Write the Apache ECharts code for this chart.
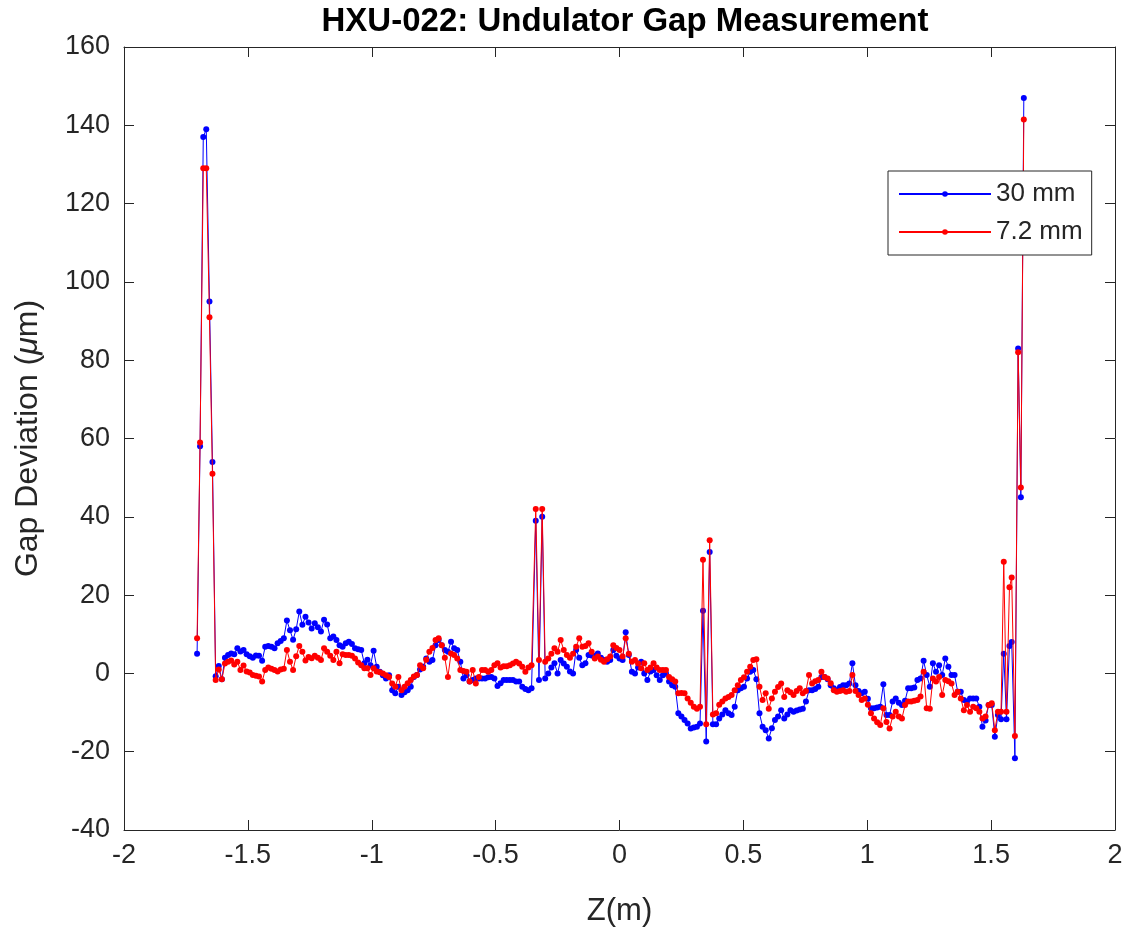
<!DOCTYPE html>
<html>
<head>
<meta charset="utf-8">
<script src="https://cdn.jsdelivr.net/npm/echarts@6/dist/echarts.min.js"></script>
<style>
html,body{margin:0;padding:0;background:#fff;}
#chart{width:1135px;height:934px;}
</style>
</head>
<body>
<div id="chart"></div>
<script>
// Z positions (m)
const zPos = [
 -1.705,-1.693,-1.68,-1.668,-1.655,-1.643,-1.63,-1.6175,-1.605,-1.5925,
 -1.58,-1.5675,-1.555,-1.5425,-1.53,-1.5175,-1.505,-1.4925,-1.48,-1.4675,
 -1.455,-1.4425,-1.43,-1.4175,-1.405,-1.3925,-1.38,-1.3675,-1.355,-1.3425,
 -1.33,-1.3175,-1.305,-1.2925,-1.28,-1.2675,-1.255,-1.2425,-1.23,-1.2175,
 -1.205,-1.1925,-1.18,-1.1675,-1.155,-1.1425,-1.13,-1.1175,-1.105,-1.0925,
 -1.08,-1.0675,-1.055,-1.0425,-1.03,-1.0175,-1.005,-0.9925,-0.98,-0.9675,
 -0.955,-0.9425,-0.93,-0.9175,-0.905,-0.8925,-0.88,-0.8675,-0.855,-0.8425,
 -0.83,-0.8175,-0.805,-0.7925,-0.78,-0.7675,-0.755,-0.7425,-0.73,-0.7175,
 -0.705,-0.6925,-0.68,-0.6675,-0.655,-0.6425,-0.63,-0.6175,-0.605,-0.5925,
 -0.58,-0.5675,-0.555,-0.5425,-0.53,-0.5175,-0.505,-0.4925,-0.48,-0.4675,
 -0.455,-0.4425,-0.43,-0.4175,-0.405,-0.3925,-0.38,-0.3675,-0.355,-0.338,
 -0.325,-0.312,-0.3,-0.2875,-0.275,-0.2625,-0.25,-0.2375,-0.225,-0.2125,
 -0.2,-0.1875,-0.175,-0.1625,-0.15,-0.1375,-0.125,-0.1125,-0.1,-0.0875,
 -0.075,-0.0625,-0.05,-0.0375,-0.025,-0.0125,0,0.0125,0.025,0.0375,
 0.05,0.0625,0.075,0.0875,0.1,0.1125,0.125,0.1375,0.15,0.1625,
 0.175,0.1875,0.2,0.2125,0.225,0.2375,0.25,0.2625,0.275,0.2875,
 0.3,0.3125,0.325,0.337,0.35,0.364,0.377,0.39,0.4025,0.415,
 0.4275,0.44,0.4525,0.465,0.4775,0.49,0.5025,0.515,0.5275,0.54,
 0.5525,0.565,0.5775,0.59,0.6025,0.615,0.6275,0.64,0.6525,0.665,
 0.6775,0.69,0.7025,0.715,0.7275,0.74,0.7525,0.765,0.7775,0.79,
 0.8025,0.815,0.8275,0.84,0.8525,0.865,0.8775,0.89,0.9025,0.915,
 0.9275,0.94,0.9525,0.965,0.9775,0.99,1.0025,1.015,1.0275,1.04,
 1.0525,1.065,1.0775,1.09,1.1025,1.115,1.1275,1.14,1.1525,1.165,
 1.1775,1.19,1.2025,1.215,1.2275,1.24,1.2525,1.265,1.2775,1.29,
 1.3025,1.315,1.3275,1.34,1.3525,1.365,1.3775,1.39,1.4025,1.415,
 1.4275,1.44,1.4525,1.465,1.4775,1.49,1.5025,1.515,1.5275,1.54,
 1.551,1.562,1.574,1.583,1.596,1.609,1.62,1.632
];
// Gap deviation (um) at 30 mm gap
const gap30 = [
 5,58,137,139,95,54,-0.7,1.9,-1.5,4.0,
 4.7,5.1,4.9,6.4,5.6,6.0,4.9,4.4,4.0,4.6,
 4.5,3.2,6.8,7.0,6.8,6.4,7.7,8.3,9.0,13.5,
 11.0,8.6,11.3,15.8,12.4,14.5,13.0,11.5,12.8,11.8,
 10.7,13.7,12.5,9.0,9.4,8.5,7.2,6.8,7.7,8.1,
 7.5,6.4,6.2,6.0,2.6,3.5,2.1,5.8,1.7,0.4,
 -0.5,-1.3,-0.5,-4.3,-5.1,-3.4,-5.5,-4.8,-4.3,-3.4,
 -0.9,-0.4,1.0,1.7,3.8,3.0,3.4,7.2,8.5,7.2,
 6.0,5.5,8.1,6.4,6.0,3.0,-1.3,-0.5,-2.1,-1.7,
 -1.3,-1.3,-1.3,-1.3,-1.0,-0.9,-1.3,-3.2,-2.5,-1.7,
 -1.7,-1.7,-1.7,-2.1,-2.1,-3.4,-4.0,-4.3,-3.8,39,
 -1.7,40,-1.3,0.0,1.5,2.6,0.0,3.4,2.5,1.7,
 0.5,0.0,6.0,4.0,2.1,2.6,4.7,4.6,4.5,5.1,
 4.0,3.4,3.0,3.4,6.0,4.5,3.8,3.4,10.5,4.7,
 0.4,0.0,1.5,3.0,0.0,-1.7,0.5,0.9,-0.5,-1.7,
 -0.5,0.0,-2.1,-3.0,-3.4,-10.2,-11.0,-11.9,-12.8,-14.1,
 -13.8,-13.6,-12.8,16,-17.4,31,-13,-13.0,-11.5,-10.5,
 -9.4,-10.2,-10.6,-8.5,-4.3,-3.8,-3.4,-1.3,0.4,0.9,
 -1.5,-10.2,-13.6,-14.5,-16.6,-14.0,-11.9,-11.0,-9.4,-11.5,
 -10.5,-9.4,-9.8,-9.5,-9.2,-9.0,-7.2,-4.3,-4.3,-4.0,
 -3.4,-0.9,-0.9,-1.5,-3.0,-3.8,-4.3,-3.5,-3.0,-3.0,
 -2.6,2.6,-3.0,-4.5,-5.1,-4.7,-6.5,-8.9,-8.9,-8.7,
 -8.5,-2.8,-10.6,-10.6,-7.2,-6.4,-7.5,-8.1,-7.0,-3.8,
 -3.8,-3.6,-1.7,-1.3,3.2,-0.4,-3.4,2.6,0.4,2.1,
 -0.4,3.8,1.7,-0.4,-0.4,-4.7,-4.7,-6.8,-7.2,-6.4,
 -6.4,-6.4,-8.5,-13.6,-12.0,-8.1,-8.1,-16.2,-10.6,-11.7,
 5,-11.7,7,8,-21.7,83,45,147
];
// Gap deviation (um) at 7.2 mm gap
const gap72 = [
 9,59,129,129,91,51,-1.7,1.0,-1.5,2.5,
 3.0,3.3,2.3,3.0,0.9,2.0,0.5,0.2,-0.4,-0.6,
 -0.8,-2.1,0.9,1.5,1.2,0.9,0.5,1.0,1.2,6.0,
 3.0,0.9,4.4,7.0,5.5,3.3,4.2,3.9,4.5,4.0,
 3.4,6.4,5.5,4.5,3.4,5.5,2.6,4.9,4.7,4.7,
 4.5,3.8,2.8,2.1,1.3,1.3,-0.4,1.3,0.5,0.3,
 0.0,-0.5,-0.9,-2.6,-3.4,-0.9,-4.3,-3.4,-2.5,-1.7,
 -0.8,-0.4,2.1,1.3,3.5,5.5,6.5,8.5,9.0,7.2,
 4.0,-0.9,5.1,4.7,3.8,0.9,0.6,0.4,-2.1,0.9,
 -2.6,-0.9,0.9,0.9,0.4,0.9,2.1,2.6,1.5,1.8,
 1.8,2.1,2.5,3.0,2.5,1.7,0.4,1.5,2.1,42,
 3.4,42,3.0,3.8,5.0,6.4,5.5,8.5,6.0,4.7,
 4.0,5.0,6.8,9.0,6.8,7.0,7.7,5.5,3.8,4.3,
 3.5,3.0,3.6,4.3,7.2,6.5,6.0,4.3,9.0,5.0,
 3.0,3.4,2.5,1.3,2.6,0.9,1.5,2.6,1.5,0.9,
 0.9,0.9,-0.9,-1.5,-2.1,-5.1,-5.0,-5.1,-6.4,-7.5,
 -8.5,-9.0,-8.5,29,-13,34,-10.5,-10.2,-8.0,-7.2,
 -6.4,-6.0,-5.5,-4.3,-3.0,-1.7,-1.0,0.4,1.7,3.4,
 3.6,-3.4,-6.8,-5.1,-9.0,-6.4,-4.7,-3.5,-2.6,-6.0,
 -4.3,-4.8,-5.5,-4.5,-3.8,-5.1,-4.5,-0.4,-2.6,-2.0,
 -1.7,0.4,-0.9,-1.3,-2.5,-4.3,-4.7,-4.5,-4.3,-4.7,
 -4.5,-0.4,-4.5,-5.5,-6.8,-6.4,-8.0,-10.2,-11.5,-12.5,
 -13.2,-8.9,-12.4,-14.1,-11.0,-9.8,-11.0,-11.5,-8.1,-7.2,
 -7.2,-7.0,-6.8,-5.9,0.4,-8.9,-9.0,-1.3,-2.1,-0.9,
 -5.5,-1.7,-2.0,-2.6,-5.5,-4.7,-6.4,-9.4,-8.1,-9.8,
 -8.5,-8.9,-9.8,-11.5,-11.0,-8.1,-7.6,-14.5,-9.8,-9.8,
 28.5,-9.8,22,24.5,-16,82,47.5,141.5
];
const seriesNames = ['30 mm', '7.2 mm'];
const seriesColors = ['#0000ff', '#ff0000'];

const FONT = '"Liberation Sans", Arial, Helvetica, sans-serif';
const AXC = '#262626';

const toPairs = vals => zPos.map((z, i) => [z, vals[i]]);

const chart = echarts.init(document.getElementById('chart'), null, {renderer: 'canvas'});

const baseX = {
  type: 'value', min: -2, max: 2, interval: 0.5,
  axisLine: {show: true, onZero: false, lineStyle: {color: AXC, width: 1}},
  axisTick: {show: true, inside: true, length: 10, lineStyle: {color: AXC}},
  splitLine: {show: false}
};
const baseY = {
  type: 'value', min: -40, max: 160, interval: 20,
  axisLine: {show: true, onZero: false, lineStyle: {color: AXC, width: 1}},
  axisTick: {show: true, inside: true, length: 10, lineStyle: {color: AXC}},
  splitLine: {show: false}
};

const option = {
  animation: false,
  backgroundColor: '#ffffff',
  title: {
    text: 'HXU-022: Undulator Gap Measurement',
    left: 620, top: 0, textAlign: 'center',
    textStyle: {fontFamily: FONT, fontWeight: 'bold', fontSize: 33, color: '#000'}
  },
  grid: {left: 124, right: 20, top: 47, bottom: 104, containLabel: false},
  legend: {
    data: seriesNames,
    orient: 'vertical',
    left: 888, top: 171,
    padding: [10, 9, 10, 10],
    itemGap: 12,
    itemWidth: 92, itemHeight: 7,
    backgroundColor: '#fff',
    borderColor: AXC, borderWidth: 1, borderRadius: 0,
    textStyle: {fontFamily: FONT, fontSize: 26, color: AXC}
  },
  xAxis: [
    Object.assign({}, baseX, {
      position: 'bottom',
      name: 'Z(m)', nameLocation: 'middle', nameGap: 66,
      nameTextStyle: {fontFamily: FONT, fontSize: 31, color: AXC},
      axisLabel: {show: true, margin: 12, fontFamily: FONT, fontSize: 27, color: AXC,
        formatter: v => String(v)}
    }),
    Object.assign({}, baseX, {position: 'top', axisLabel: {show: false}})
  ],
  yAxis: [
    Object.assign({}, baseY, {
      position: 'left',
      name: 'Gap Deviation ({i|μ}m)', nameLocation: 'middle', nameGap: 80, nameRotate: 90,
      nameTextStyle: {fontFamily: FONT, fontSize: 32, color: AXC,
        rich: {i: {fontFamily: FONT, fontSize: 32, fontStyle: 'italic', color: AXC}}},
      axisLabel: {show: true, margin: 14, fontFamily: FONT, fontSize: 27, color: AXC}
    }),
    Object.assign({}, baseY, {position: 'right', axisLabel: {show: false}})
  ],
  series: [gap30, gap72].map((vals, k) => ({
    name: seriesNames[k],
    type: 'line',
    xAxisIndex: 0, yAxisIndex: 0,
    data: toPairs(vals),
    symbol: 'circle', symbolSize: 6, showSymbol: true, showAllSymbol: true,
    lineStyle: {color: seriesColors[k], width: 1},
    itemStyle: {color: seriesColors[k]},
    emphasis: {disabled: true},
    z: 2 + k
  }))
};
chart.setOption(option);
</script>
</body>
</html>
